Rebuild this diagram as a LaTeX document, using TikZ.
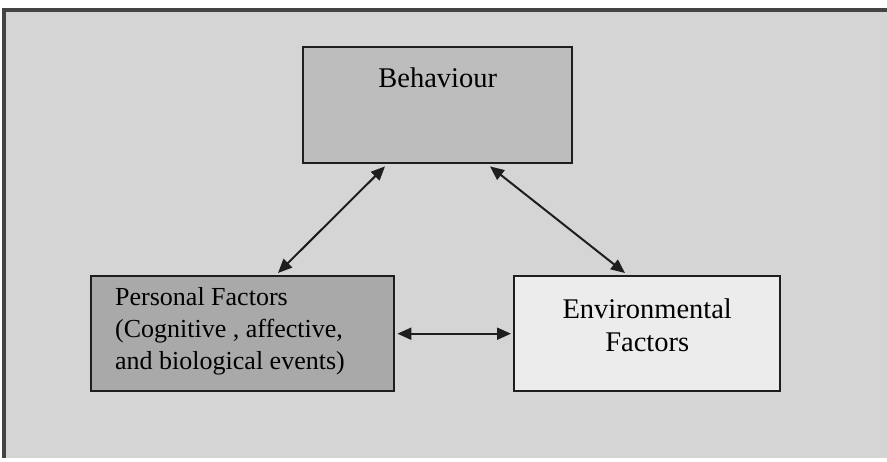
\documentclass[tikz,border=0pt]{standalone}
\usepackage{fontspec}
\setmainfont{Liberation Serif}
\usetikzlibrary{arrows.meta,calc}
\definecolor{pagegrey}{HTML}{D5D5D5}
\definecolor{framegrey}{HTML}{444444}
\definecolor{behfill}{HTML}{BDBDBD}
\definecolor{persfill}{HTML}{A9A9A9}
\definecolor{envfill}{HTML}{ECECEC}
\definecolor{edgegrey}{HTML}{1E1E1E}
\begin{document}
\begin{tikzpicture}[x=1pt,y=-1pt,
  factorbox/.style={draw=edgegrey,line width=2.4pt,inner sep=0pt,anchor=north west},
  boxtext/.style={font=\fontsize{26}{32}\selectfont,inner sep=0pt},
  bigtext/.style={font=\fontsize{28.5}{33}\selectfont,inner sep=0pt},
  link/.style={draw=edgegrey,line width=2pt,{Triangle[length=14pt,width=12pt]}-{Triangle[length=14pt,width=12pt]}}]
  \useasboundingbox (0,0) rectangle (887,462);
  \fill[white] (0,0) rectangle (887,462);
  % grey page with its darker top and left edges
  \fill[pagegrey] (4,10) rectangle (887,458);
  \draw[framegrey,line width=3.5pt] (4,458) -- (4,10) -- (887,10);

  % the three boxes
  \node[factorbox,fill=behfill,minimum width=269pt,minimum height=116pt] (beh) at (302,46) {};
  \node[factorbox,fill=persfill,minimum width=303pt,minimum height=115pt] (pers) at (90,275) {};
  \node[factorbox,fill=envfill,minimum width=266pt,minimum height=115pt] (env) at (513,275) {};

  % box labels
  \node[bigtext] (behtxt) at ($(beh.north)+(0,32)$) {Behaviour};
  \node[boxtext,align=left,anchor=west] (perstxt) at ($(pers.west)+(25,-2)$)
    {Personal Factors\\(Cognitive , affective,\\and biological events)};
  \node[bigtext,align=center] (envtxt) at ($(env.center)+(0,-8)$)
    {Environmental\\Factors};

  % reciprocal links
  \coordinate (bl) at ($(beh.south west)+(83,2)$);
  \coordinate (br) at ($(beh.south west)+(188,2)$);
  \coordinate (pt) at ($(pers.north west)+(188,-2)$);
  \coordinate (et) at ($(env.north west)+(112,-2)$);
  \draw[link] (bl) -- (pt);
  \draw[link] (br) -- (et);
  \draw[link] ($(pers.east)+(2,0)$) -- ($(env.west)+(-2,0)$);
\end{tikzpicture}
\end{document}
